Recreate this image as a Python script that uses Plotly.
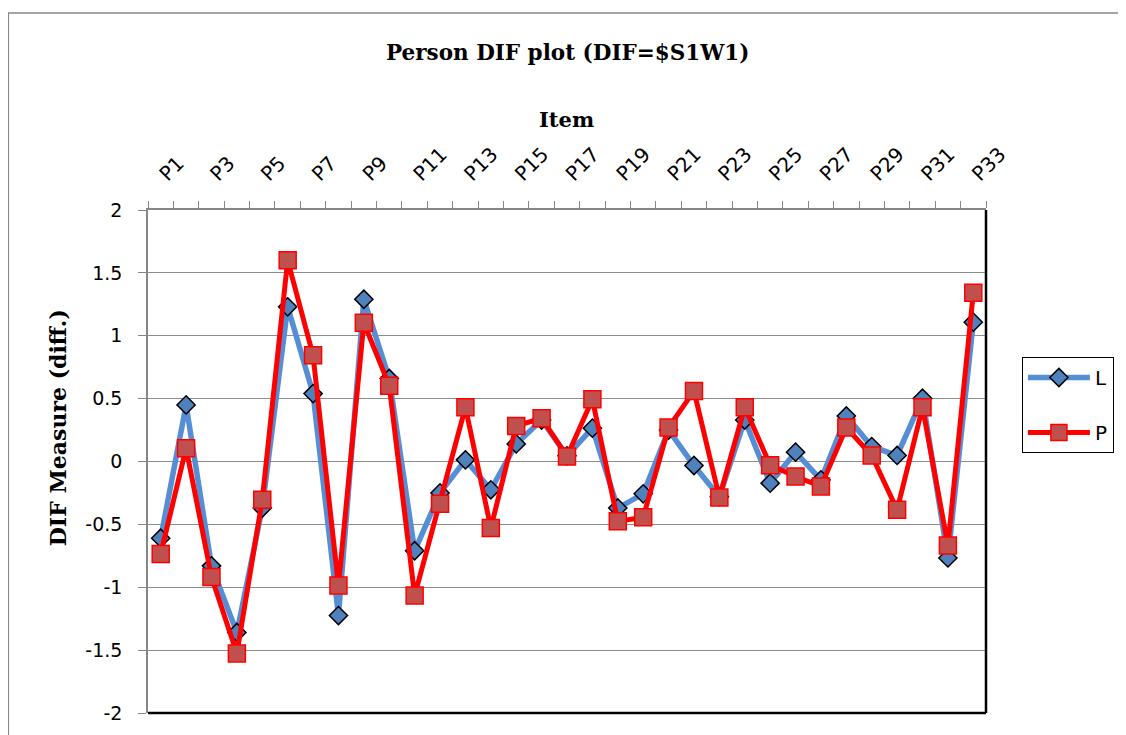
import plotly.graph_objects as go

categories = [f"P{i}" for i in range(1, 34)]
L_values = [-0.61, 0.45, -0.83, -1.36, -0.37, 1.23, 0.54, -1.225, 1.29, 0.66, -0.71,
            -0.25, 0.013, -0.225, 0.14, 0.33, 0.045, 0.265, -0.37, -0.257, 0.25, -0.032,
            -0.28, 0.33, -0.172, 0.074, -0.146, 0.362, 0.119, 0.048, 0.503, -0.767, 1.108]
P_values = [-0.735, 0.106, -0.918, -1.526, -0.304, 1.6, 0.844, -0.987, 1.103, 0.603, -1.066,
            -0.336, 0.431, -0.529, 0.283, 0.344, 0.04, 0.495, -0.476, -0.444, 0.27, 0.561,
            -0.286, 0.431, -0.029, -0.119, -0.198, 0.27, 0.048, -0.384, 0.431, -0.667, 1.341]
y_ticks = [-2, -1.5, -1, -0.5, 0, 0.5, 1, 1.5, 2]

title_text = "Person DIF plot (DIF=$S1W1)"
x_title = "Item"
y_title = "DIF Measure (diff.)"

# page offset (body margin)
OFF = 8
W, H = 1126 - OFF, 735 - OFF
PL, PR, PT, PB = 148 - OFF, 988 - OFF, 210 - OFF, 713 - OFF

def px(x):
    return (x - OFF - PL) / (PR - PL)

def py(y):
    return 1 - (y - OFF - PT) / (PB - PT)

xpos = [i + 1 for i, _ in enumerate(categories)]

fig = go.Figure()
fig.add_trace(go.Scatter(
    x=xpos, y=L_values, name="L", mode="lines+markers",
    line=dict(color="#558ED5", width=5.5),
    marker=dict(symbol="diamond", size=14, color="#4F81BD", line=dict(color="black", width=1.5)),
    legendgroup="L",
))
fig.add_trace(go.Scatter(
    x=xpos, y=P_values, name="P", mode="lines+markers",
    line=dict(color="#FF0000", width=5),
    marker=dict(symbol="square", size=17, color="#C0504D", line=dict(color="#FF0000", width=1.5)),
    legendgroup="P",
))

SERIF = "DejaVu Serif, serif"
SANS = "DejaVu Sans, sans-serif"
odd = xpos[::2]
fig.update_layout(
    width=W, height=H, autosize=False,
    margin=dict(l=PL, r=W - PR, t=PT, b=H - PB, pad=0),
    paper_bgcolor="white", plot_bgcolor="white",
    font=dict(family=SANS, size=19, color="black"),
    showlegend=True,
    legend=dict(
        x=px(1024), y=py(357), xanchor="left", yanchor="top",
        bordercolor="black", borderwidth=1, bgcolor="white",
        font=dict(size=20, family=SANS),
        tracegroupgap=26, itemwidth=62,
    ),
    xaxis=dict(
        side="top", range=[0.5, 33.5],
        tickvals=odd, ticktext=[categories[i - 1] for i in odd],
        tickangle=-45, ticks="", showgrid=False, zeroline=False,
        showline=True, linecolor="#868686", linewidth=1.5,
        ticklabelstandoff=15, automargin=False,
        minor=dict(tickvals=[v + 0.5 for v in [0] + xpos], ticks="outside", ticklen=7,
                   tickcolor="#868686", tickwidth=1, showgrid=False),
        tickfont=dict(size=20, family=SANS),
    ),
    yaxis=dict(
        range=[-2, 2], tickvals=y_ticks, ticktext=[f"{v:g}" for v in y_ticks],
        ticks="outside", ticklen=8, tickcolor="#868686", tickwidth=1,
        showgrid=True, gridcolor="#8C8C8C", gridwidth=1.2, zeroline=False,
        showline=True, linecolor="#868686", linewidth=1.5, automargin=False,
        ticklabelstandoff=12, tickfont=dict(size=19, family=SANS),
    ),
    annotations=[
        dict(text=f"<b>{title_text}</b>", x=px(569), y=py(52), xref="paper", yref="paper",
             showarrow=False, xanchor="center", yanchor="middle",
             font=dict(family=SERIF, size=21.5, color="black")),
        dict(text=f"<b>{x_title}</b>", x=px(567), y=py(119), xref="paper", yref="paper",
             showarrow=False, xanchor="center", yanchor="middle",
             font=dict(family=SERIF, size=21, color="black")),
        dict(text=f"<b>{y_title}</b>", x=px(58), y=py(428), xref="paper", yref="paper",
             showarrow=False, xanchor="center", yanchor="middle", textangle=-90,
             font=dict(family=SERIF, size=22, color="black")),
    ],
    shapes=[
        # outer chart border
        dict(type="rect", xref="paper", yref="paper", x0=px(8), y0=py(13), x1=px(1140), y1=py(760),
             line=dict(color="#898989", width=1.5), layer="below"),
        # plot area right & bottom border
        dict(type="line", xref="paper", yref="paper", x0=1, x1=1, y0=0, y1=1,
             line=dict(color="black", width=2.5), layer="above"),
        dict(type="line", xref="paper", yref="paper", x0=0, x1=1, y0=0, y1=0,
             line=dict(color="black", width=2.5), layer="above"),
    ],
)

fig.write_html("out.html")
